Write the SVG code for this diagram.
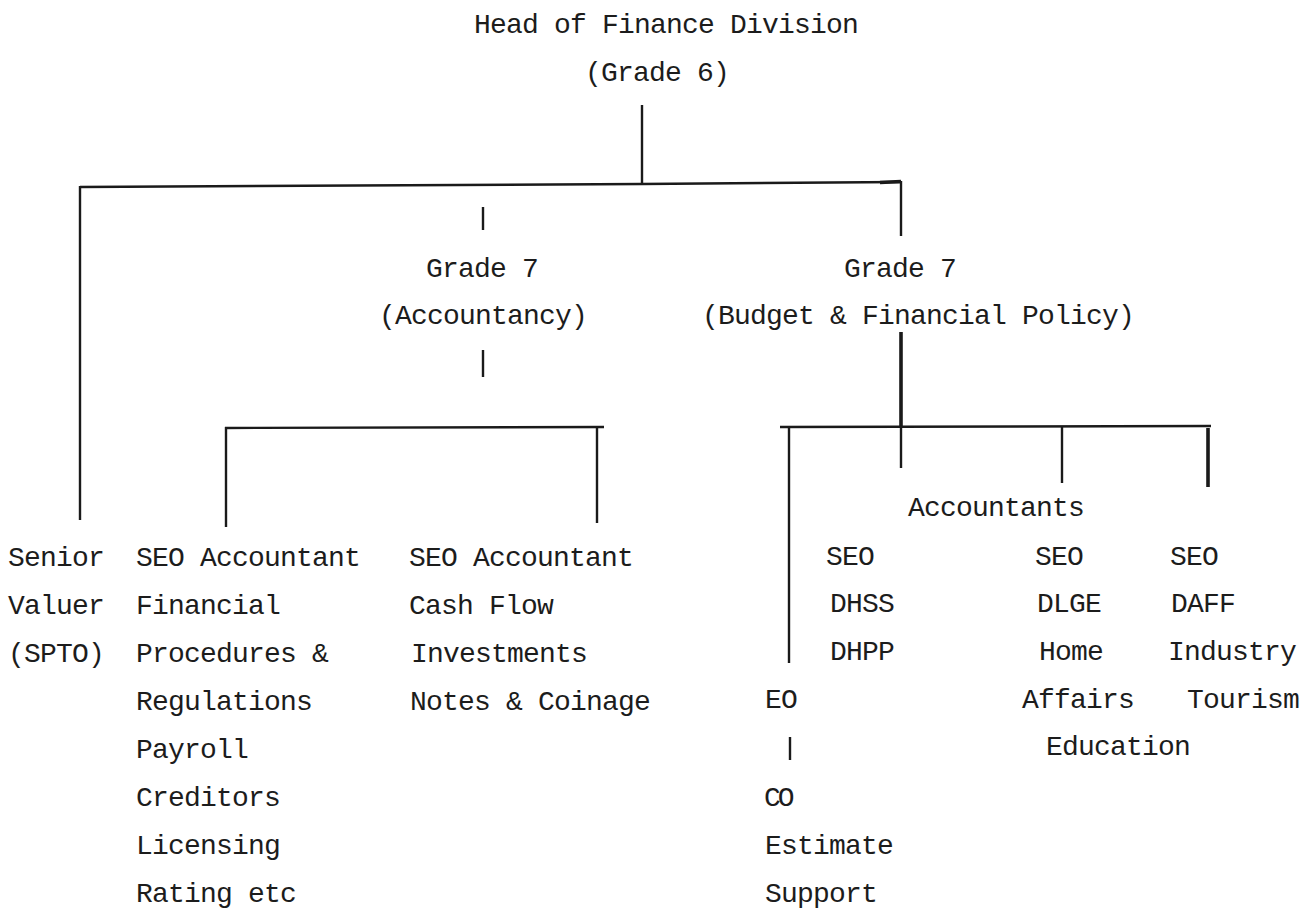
<svg xmlns="http://www.w3.org/2000/svg" width="1315" height="908" viewBox="0 0 1315 908">
  <style>
    text { font-family: "Liberation Mono", "DejaVu Sans Mono", monospace; font-size: 28px; letter-spacing: -0.8px; fill: #1c1c1c; }
    .mid { text-anchor: middle; }
    .ln { fill: none; stroke: #1a1a1a; stroke-width: 2.4; stroke-linecap: butt; }
    .thick { stroke-width: 3.6; }
  </style>
  <rect x="0" y="0" width="1315" height="908" fill="#ffffff"/>

  <g id="connectors">
    <!-- head to second tier -->
    <path class="ln" d="M642 105 V184"/>
    <path class="ln" d="M80 187 L642 184 L901 182"/>
    <path class="ln thick" d="M880 182.5 L901 181.5"/>
    <path class="ln" d="M80 186 V520"/>
    <path class="ln" d="M901 181 V236"/>
    <!-- accountancy ticks and bracket -->
    <path class="ln" d="M483 207 V230"/>
    <path class="ln" d="M483 350 V377"/>
    <path class="ln" d="M225 428 L604 427"/>
    <path class="ln" d="M226 427 V527"/>
    <path class="ln" d="M597 427 V523"/>
    <!-- budget bracket -->
    <path class="ln thick" d="M901 332 V426"/>
    <path class="ln" d="M780 427 L1211 426"/>
    <path class="ln" d="M789 427 V663"/>
    <path class="ln" d="M901 426 V468"/>
    <path class="ln" d="M1062 426 V483"/>
    <path class="ln thick" d="M1208 428 V487"/>
    <!-- EO to CO -->
    <path class="ln" d="M790 737 V760"/>
  </g>

  <g id="head">
    <text class="mid" x="666" y="33">Head of Finance Division</text>
    <text class="mid" x="657" y="81">(Grade 6)</text>
  </g>

  <g id="grade7-accountancy">
    <text class="mid" x="482" y="277">Grade 7</text>
    <text class="mid" x="483" y="324">(Accountancy)</text>
  </g>

  <g id="grade7-budget">
    <text class="mid" x="900" y="277">Grade 7</text>
    <text class="mid" x="918" y="324">(Budget &amp; Financial Policy)</text>
  </g>

  <g id="senior-valuer">
    <text x="8" y="566">Senior</text>
    <text x="8" y="614">Valuer</text>
    <text x="8" y="662">(SPTO)</text>
  </g>

  <g id="seo-procedures">
    <text x="136" y="566">SEO Accountant</text>
    <text x="136" y="614">Financial</text>
    <text x="136" y="662">Procedures &amp;</text>
    <text x="136" y="710">Regulations</text>
    <text x="136" y="758">Payroll</text>
    <text x="136" y="806">Creditors</text>
    <text x="136" y="854">Licensing</text>
    <text x="136" y="902">Rating etc</text>
  </g>

  <g id="seo-cashflow">
    <text x="409" y="566">SEO Accountant</text>
    <text x="409" y="614">Cash Flow</text>
    <text x="411" y="662">Investments</text>
    <text x="410" y="710">Notes &amp; Coinage</text>
  </g>

  <g id="accountants">
    <text x="908" y="516">Accountants</text>
  </g>

  <g id="seo-dhss">
    <text x="826" y="565">SEO</text>
    <text x="830" y="612">DHSS</text>
    <text x="830" y="660">DHPP</text>
  </g>

  <g id="seo-dlge">
    <text x="1035" y="565">SEO</text>
    <text x="1037" y="612">DLGE</text>
    <text x="1039" y="660">Home</text>
    <text x="1022" y="708">Affairs</text>
    <text x="1046" y="755">Education</text>
  </g>

  <g id="seo-daff">
    <text x="1170" y="565">SEO</text>
    <text x="1171" y="612">DAFF</text>
    <text x="1168" y="660">Industry</text>
    <text x="1187" y="708">Tourism</text>
  </g>

  <g id="eo">
    <text x="765" y="708">EO</text>
  </g>

  <g id="co-estimate-support">
    <text x="764" y="806" style="letter-spacing:-3px">CO</text>
    <text x="765" y="854">Estimate</text>
    <text x="765" y="902">Support</text>
  </g>
</svg>
